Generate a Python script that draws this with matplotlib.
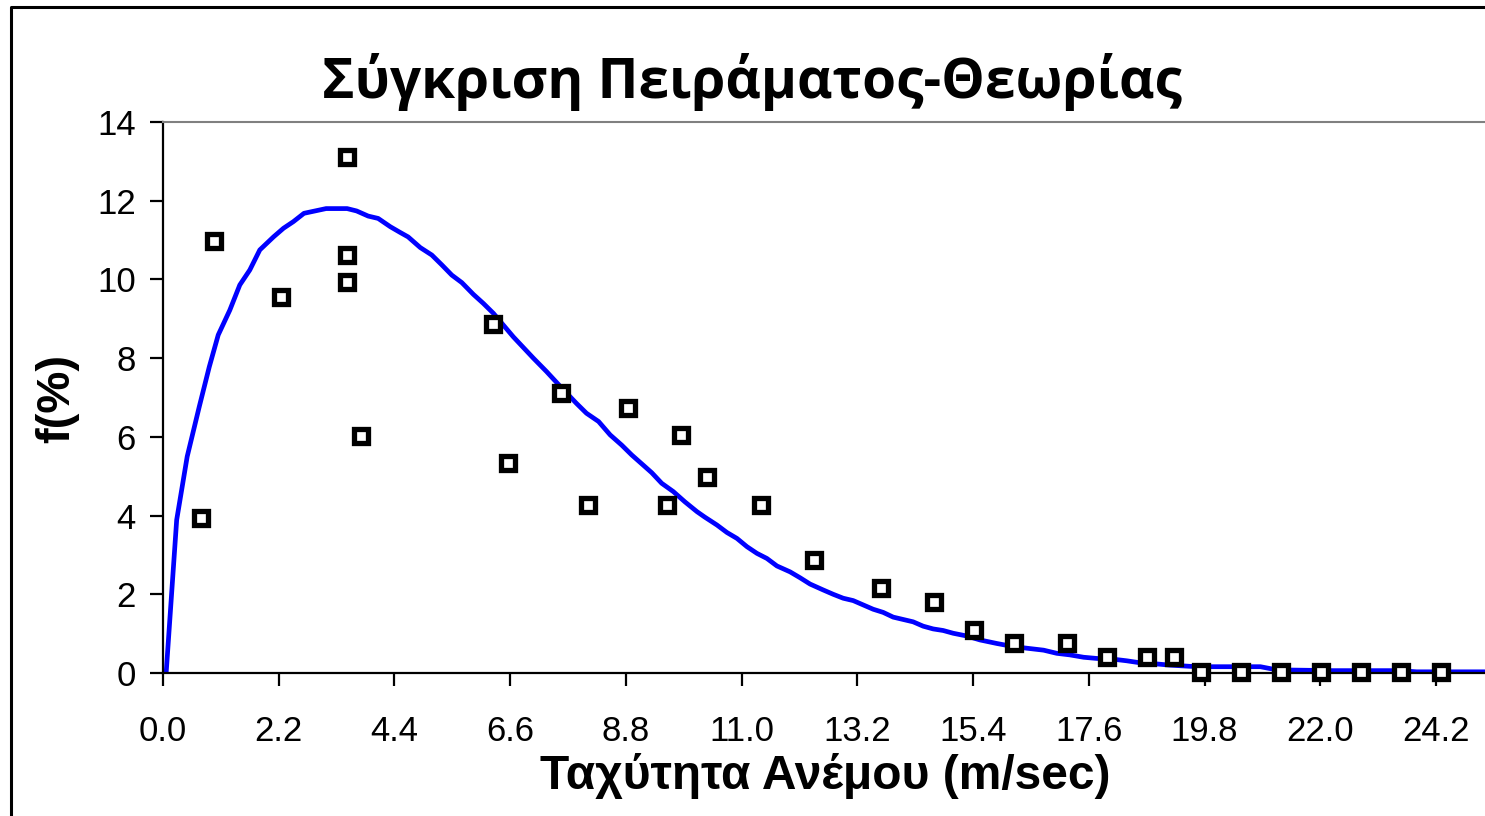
import numpy as np
import matplotlib
matplotlib.use("Agg")
import matplotlib.pyplot as plt
from matplotlib.lines import Line2D

# theoretical curve
curve_x = [0.06, 0.26, 0.46, 0.69, 0.88, 1.05, 1.27, 1.46, 1.65, 1.84, 2.10, 2.29,
           2.48, 2.68, 2.89, 3.10, 3.30, 3.50, 3.68, 3.90, 4.09, 4.32, 4.50, 4.66,
           4.89, 5.11, 5.30, 5.49, 5.68, 5.90, 6.09, 6.28, 6.47, 6.66, 6.85, 7.04,
           7.29, 7.56, 7.86, 8.05, 8.28, 8.50, 8.72, 8.91, 9.13, 9.29, 9.48, 9.70,
           9.92, 10.15, 10.30, 10.53, 10.72, 10.91, 11.10, 11.29, 11.48, 11.67, 11.92,
           12.11, 12.30, 12.55, 12.74, 12.93, 13.12, 13.31, 13.50, 13.69, 13.88, 14.07,
           14.26, 14.45, 14.64, 14.83, 15.02, 15.28, 15.53, 15.85, 16.17, 16.42, 16.74,
           16.99, 17.24, 17.50, 17.75, 18.07, 18.32, 18.57, 18.89, 19.14, 19.52, 19.72,
           20.86, 21.17, 22.24, 23.52, 23.83, 25.13]
curve_y = [0.0, 3.89, 5.50, 6.77, 7.78, 8.59, 9.22, 9.86, 10.24, 10.75, 11.08, 11.30,
           11.47, 11.68, 11.74, 11.80, 11.80, 11.80, 11.74, 11.61, 11.55, 11.34, 11.20, 11.08,
           10.81, 10.62, 10.37, 10.11, 9.92, 9.62, 9.39, 9.14, 8.84, 8.54, 8.27, 8.00,
           7.66, 7.27, 6.85, 6.60, 6.39, 6.05, 5.79, 5.54, 5.28, 5.09, 4.82, 4.61,
           4.35, 4.10, 3.96, 3.76, 3.57, 3.42, 3.21, 3.04, 2.91, 2.72, 2.57,
           2.42, 2.26, 2.11, 2.00, 1.90, 1.84, 1.73, 1.62, 1.54, 1.42, 1.36,
           1.30, 1.19, 1.12, 1.08, 1.01, 0.94, 0.84, 0.75, 0.67, 0.63, 0.58,
           0.50, 0.46, 0.40, 0.37, 0.35, 0.31, 0.26, 0.23, 0.20, 0.17, 0.16,
           0.16, 0.08, 0.06, 0.06, 0.03, 0.03]

# measured frequencies
meas_x = [0.72, 0.97, 2.24, 3.50, 3.50, 3.50, 3.76, 6.28, 6.55, 7.56, 8.07, 8.83,
          9.59, 9.84, 10.35, 11.36, 12.38, 13.64, 14.66, 15.42, 16.18, 17.19, 17.95,
          18.71, 19.22, 19.73, 20.49, 21.25, 22.01, 22.77, 23.53, 24.29]
meas_y = [3.93, 10.98, 9.56, 13.10, 10.62, 9.93, 6.03, 8.87, 5.34, 7.11, 4.28, 6.74,
          4.28, 6.04, 4.99, 4.28, 2.87, 2.17, 1.81, 1.10, 0.75, 0.75, 0.40,
          0.40, 0.40, 0.03, 0.03, 0.03, 0.03, 0.03, 0.03, 0.03]

x_ticks = [0.0, 2.2, 4.4, 6.6, 8.8, 11.0, 13.2, 15.4, 17.6, 19.8, 22.0, 24.2]
y_ticks = [0, 2, 4, 6, 8, 10, 12, 14]

W, H = 1485, 816
fig = plt.figure(figsize=(W / 100, H / 100), dpi=100)
ax = fig.add_axes([163 / W, 1 - 673 / H, 1 - 163 / W, (673 - 122) / H])

ax.plot(curve_x, curve_y, color="#0000FF", lw=3.4, zorder=2)
ax.plot(meas_x, meas_y, ls="none", marker="s", ms=10, mew=3.8,
        mec="black", mfc="white", clip_on=False, zorder=3)

ax.set_xlim(0, 25.13)
ax.set_ylim(0, 14)
ax.set_xticks(x_ticks)
ax.set_xticklabels(["%.1f" % v for v in x_ticks])
ax.set_yticks(y_ticks)

for s in ("left", "bottom"):
    ax.spines[s].set_color("black")
    ax.spines[s].set_linewidth(1.6)
ax.spines["top"].set_color("#808080")
ax.spines["top"].set_linewidth(1.5)
ax.spines["right"].set_visible(False)

ax.tick_params(axis="both", direction="out", length=9.5, width=1.6, color="black",
               labelsize=25, labelcolor="black")
ax.tick_params(axis="x", pad=21)
ax.tick_params(axis="y", pad=10)
for lab in ax.get_xticklabels() + ax.get_yticklabels():
    lab.set_family("Liberation Sans")

ax.set_xlabel("Ταχύτητα Ανέμου (m/sec)", family="Liberation Sans", fontsize=34.5,
              fontweight="bold", labelpad=0)
ax.xaxis.set_label_coords((825 - 163) / (W - 163), -(776 - 673) / (673 - 122))
ax.xaxis.label.set_va("center")
ax.set_ylabel("f(%)", family="Liberation Sans", fontsize=34, fontweight="bold")
ax.yaxis.set_label_coords(-(163 - 57) / (W - 163), (673 - 398) / (673 - 122))
ax.yaxis.label.set_va("center")

fig.text(752 / W, 1 - 82 / H, "Σύγκριση Πειράματος-Θεωρίας", family="Open Sans",
         fontsize=39.5, fontweight="bold", ha="center", va="center")

# outer chart frame (right and bottom edges fall outside the picture)
fx, fy = 11 / W, 1 - 7 / H
fig.add_artist(Line2D([fx, fx, 1.05], [-0.05, fy, fy], transform=fig.transFigure,
                      color="black", lw=2.2))

fig.savefig("out.png", dpi=100)
